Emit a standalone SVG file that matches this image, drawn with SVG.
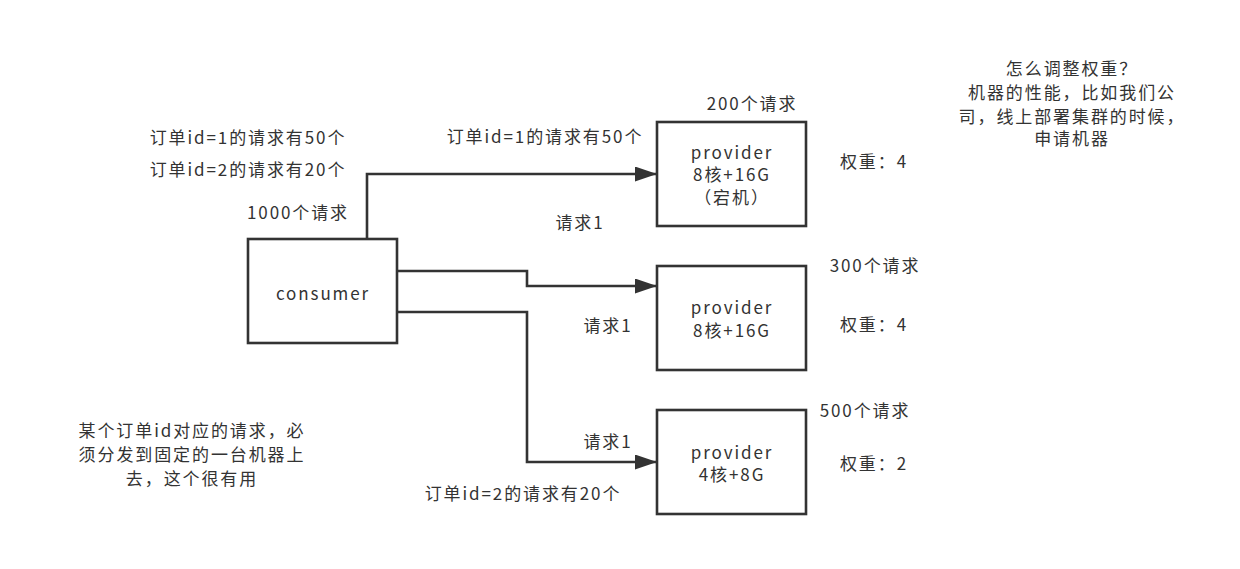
<svg xmlns="http://www.w3.org/2000/svg" width="1240" height="569" viewBox="0 0 1240 569">
<defs>
<style>
text{font-family:"Noto Sans CJK SC","Noto Sans",sans-serif;font-size:17px;letter-spacing:1.9px;fill:#333;text-anchor:middle;dominant-baseline:central}
.box{fill:#fff;stroke:#333;stroke-width:2.6}
.edge{fill:none;stroke:#333;stroke-width:2.6}
</style>
<marker id="arr" markerWidth="22" markerHeight="15" refX="21" refY="7.5" orient="auto" markerUnits="userSpaceOnUse">
<path d="M0,0 L22,7.5 L0,15 Z" fill="#333"/>
</marker>
</defs>
<rect width="1240" height="569" fill="#fff"/>
<g id="connectors">
<path class="edge" d="M367,239 V174 H656" marker-end="url(#arr)"/>
<path class="edge" d="M397,271 H527 V286 H656" marker-end="url(#arr)"/>
<path class="edge" d="M397,312 H527 V462 H656" marker-end="url(#arr)"/>
</g>
<g id="consumer">
<rect class="box" x="248" y="239" width="149" height="104"/>
<text x="323" y="292">consumer</text>
</g>
<g id="provider1">
<rect class="box" x="657" y="122" width="149" height="104"/>
<text x="732" y="151">provider</text>
<text x="732" y="173">8核+16G</text>
<text x="732" y="196">（宕机）</text>
</g>
<g id="provider2">
<rect class="box" x="657" y="266" width="149" height="104"/>
<text x="732" y="306">provider</text>
<text x="732" y="329">8核+16G</text>
</g>
<g id="provider3">
<rect class="box" x="657" y="410" width="149" height="104"/>
<text x="732" y="451">provider</text>
<text x="732" y="473">4核+8G</text>
</g>
<g id="labels">
<text x="248" y="136">订单id=1的请求有50个</text>
<text x="248" y="168">订单id=2的请求有20个</text>
<text x="298" y="211">1000个请求</text>
<text x="545" y="135">订单id=1的请求有50个</text>
<text x="752" y="102">200个请求</text>
<text x="580" y="221">请求1</text>
<text x="874" y="160">权重：4</text>
<text x="875" y="264">300个请求</text>
<text x="608" y="324">请求1</text>
<text x="874" y="323">权重：4</text>
<text x="865" y="409">500个请求</text>
<text x="608" y="440">请求1</text>
<text x="874" y="462">权重：2</text>
<text x="523" y="492">订单id=2的请求有20个</text>
<text x="192" y="429">某个订单id对应的请求，必</text>
<text x="192" y="453">须分发到固定的一台机器上</text>
<text x="192" y="477">去，这个很有用</text>
<text x="1072" y="67">怎么调整权重？</text>
<text x="1072" y="91">机器的性能，比如我们公</text>
<text x="1072" y="115">司，线上部署集群的时候，</text>
<text x="1072" y="137">申请机器</text>
</g>
</svg>
